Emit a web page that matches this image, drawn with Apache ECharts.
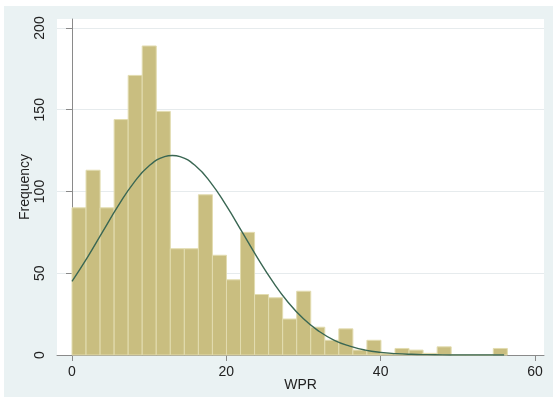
<!DOCTYPE html>
<html>
<head>
<meta charset="utf-8">
<script src="https://cdn.jsdelivr.net/npm/echarts@6/dist/echarts.min.js"></script>
<style>
html,body{margin:0;padding:0;background:#ffffff;}
#chart{width:553px;height:397px;}
</style>
</head>
<body>
<div id="chart"></div>
<script>
// Histogram bins: first bin starts at 0, equal bin width
const binStart = 0;
const binWidth = 1.82;
const counts = [90, 113, 90, 144, 171, 189, 149, 65, 65, 98, 61, 46, 75, 37, 35,
                22, 39, 17, 9, 16, 3, 9, 1, 4, 3, 1, 5, 0, 0, 0, 4];
// Overlaid normal curve
const curveX = [0, 2, 4, 6, 8, 10, 12, 13, 14, 16, 18, 20, 22, 24, 26, 28, 30, 32, 34, 36, 38, 40, 42, 44, 46, 48, 50, 52, 54, 56];
const curveY = [45, 59.7, 75.6, 91.3, 105.3, 115.7, 121.3, 122, 121.3, 115.7, 105.3, 91.3, 75.6, 59.7, 45, 32.3, 22.1, 14.5, 9.0, 5.4, 3.0, 1.6, 0.85, 0.42, 0.2, 0.08, 0.03, 0.01, 0, 0];
const xTicks = [0, 20, 40, 60];
const yTicks = [0, 50, 100, 150, 200];
const xTitle = 'WPR';
const yTitle = 'Frequency';

const barData = counts.map((c, i) => [binStart + i * binWidth, binStart + (i + 1) * binWidth, c]);
const lineData = curveX.map((x, i) => [x, curveY[i]]);

const font = "'Liberation Sans', Arial, Helvetica, sans-serif";
const chart = echarts.init(document.getElementById('chart'), null, {renderer: 'canvas'});
chart.setOption({
  animation: false,
  backgroundColor: 'transparent',
  graphic: [{
    type: 'rect', z: -10, silent: true,
    shape: {x: 4, y: 6, width: 549, height: 391},
    style: {fill: '#eaf2f3'}
  }],
  grid: {left: 57, right: 9, top: 19, bottom: 42, show: true, backgroundColor: '#ffffff', borderWidth: 0},
  xAxis: {
    type: 'value', min: -1.944, max: 61.17,
    name: xTitle, nameLocation: 'middle', nameGap: 23, nameMoveOverlap: false,
    nameTextStyle: {fontFamily: font, fontSize: 14, color: '#222'},
    axisLine: {show: true, onZero: false, lineStyle: {color: '#8a8a8a', width: 1}},
    axisTick: {show: true, length: 6, customValues: xTicks, lineStyle: {color: '#8a8a8a'}},
    axisLabel: {customValues: xTicks, fontFamily: font, fontSize: 14, color: '#222', margin: 10},
    splitLine: {show: false}
  },
  yAxis: {
    type: 'value', min: 0, max: 205.5,
    name: yTitle, nameLocation: 'middle', nameGap: 25, nameMoveOverlap: false,
    nameTextStyle: {fontFamily: font, fontSize: 14, color: '#222'},
    axisLine: {show: true, lineStyle: {color: '#8a8a8a', width: 1}},
    axisTick: {show: true, length: 6, customValues: yTicks, lineStyle: {color: '#8a8a8a'}},
    axisLabel: {customValues: yTicks, rotate: 90, fontFamily: font, fontSize: 14, color: '#222', margin: 10},
    splitLine: {show: true, customValues: yTicks, lineStyle: {color: '#e6ebed', width: 1}}
  },
  series: [{
    type: 'custom',
    data: barData,
    encode: {x: [0, 1], y: 2},
    renderItem: function (params, api) {
      const p0 = api.coord([api.value(0), api.value(2)]);
      const p1 = api.coord([api.value(1), 0]);
      return {
        type: 'rect',
        shape: {x: p0[0], y: p0[1], width: p1[0] - p0[0], height: p1[1] - p0[1]},
        style: {fill: '#c9be80', stroke: '#e2dcb0', lineWidth: 1}
      };
    },
    z: 2
  }, {
    type: 'line',
    data: lineData,
    smooth: true,
    showSymbol: false,
    lineStyle: {color: '#3a6753', width: 1.4},
    z: 3
  }]
});
</script>
</body>
</html>
